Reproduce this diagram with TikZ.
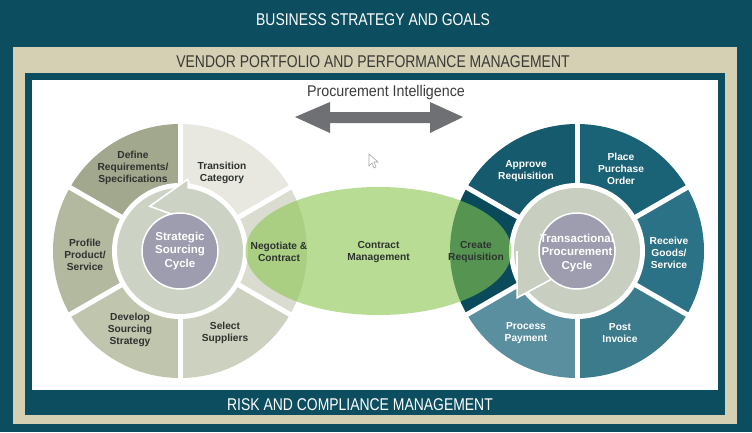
\documentclass[tikz,border=0pt]{standalone}
\usepackage{fontspec}
\setmainfont{Liberation Sans}
\newfontfamily\condfont[FakeStretch=0.82]{Liberation Sans}
\newfontfamily\condpi[FakeStretch=0.92]{Liberation Sans}
\definecolor{tealbg}{HTML}{0C4E5F}
\definecolor{beige}{HTML}{D5CFB3}
\definecolor{vendortext}{HTML}{3A3A36}
\definecolor{pigray}{HTML}{3C3C3C}
\definecolor{arrowgray}{HTML}{6F7074}
\definecolor{lDefine}{HTML}{A2A88E}
\definecolor{lTrans}{HTML}{E8E8E1}
\definecolor{lNeg}{HTML}{DADCD0}
\definecolor{lSelect}{HTML}{CDD1BF}
\definecolor{lDevelop}{HTML}{C0C5AE}
\definecolor{lProfile}{HTML}{B3B99F}
\definecolor{lring}{HTML}{CDD3C4}
\definecolor{disk}{HTML}{9D9DAF}
\definecolor{rApprove}{HTML}{165A6D}
\definecolor{rPlace}{HTML}{1A6276}
\definecolor{rReceive}{HTML}{2C7286}
\definecolor{rPost}{HTML}{3B7B8C}
\definecolor{rProcess}{HTML}{5A8FA0}
\definecolor{rCreate}{HTML}{0A4A5A}
\definecolor{rring}{HTML}{C8CEC0}
\definecolor{ellgreen}{HTML}{8AC64E}
\definecolor{labeldark}{HTML}{2E3330}
\begin{document}
\begin{tikzpicture}[x=1pt,y=-1pt,
  hdr/.style={font=\condfont\fontsize{17}{20}\selectfont, inner sep=0pt},
  seglabel/.style={font=\bfseries\fontsize{10.2}{12}\selectfont, align=center, inner sep=0pt, text=labeldark},
  seglabelw/.style={seglabel, text=white},
  disklabel/.style={font=\bfseries\fontsize{11.5}{13.5}\selectfont, align=center, inner sep=0pt, text=white},
  sep/.style={white, line width=5pt},
  headline/.style={white, line width=1.6pt, line join=miter}]
\useasboundingbox (0,0) rectangle (752,432);
% frames
\fill[tealbg] (0,0) rectangle (752,432);
\fill[beige] (13,47) rectangle (737,424);
\fill[tealbg] (25,73) rectangle (725,415);
\fill[white] (32,80) rectangle (718,390);
\node[hdr, text=white] (biz) at (373,20) {BUSINESS STRATEGY AND GOALS};
\node[hdr, text=vendortext] (vendor) at (373,62) {VENDOR PORTFOLIO AND PERFORMANCE MANAGEMENT};
\node[hdr, text=white] (risk) at (360,405) {RISK AND COMPLIANCE MANAGEMENT};
\node[font=\condpi\fontsize{15.5}{18}\selectfont, text=pigray, inner sep=0pt] (pi) at (386,92) {Procurement Intelligence};
% double arrow
\fill[arrowgray] (295,117) -- (330,102) -- (330,112) -- (430,112) -- (430,102) -- (463,117)
  -- (430,133) -- (430,123) -- (330,123) -- (330,133) -- cycle;
% left circle
\begin{scope}[shift={(180,251)}, y=1pt]
  \fill[lDefine]  (0,0) -- (90:127) arc[start angle=90, end angle=150, radius=127] -- cycle;
  \fill[lTrans]   (0,0) -- (30:127) arc[start angle=30, end angle=90, radius=127] -- cycle;
  \fill[lNeg]     (0,0) -- (-30:127) arc[start angle=-30, end angle=30, radius=127] -- cycle;
  \fill[lSelect]  (0,0) -- (-90:127) arc[start angle=-90, end angle=-30, radius=127] -- cycle;
  \fill[lDevelop] (0,0) -- (210:127) arc[start angle=210, end angle=270, radius=127] -- cycle;
  \fill[lProfile] (0,0) -- (150:127) arc[start angle=150, end angle=210, radius=127] -- cycle;
  \foreach \a in {30,90,150,210,270,330} \draw[sep] (0,0) -- (\a:130);
  \fill[white] (0,0) circle[radius=68];
  \fill[lring] (0,0) circle[radius=63];
  \fill[lring] (84:72) -- (124:54) -- (101:37) -- (80:37) -- cycle;
  \draw[headline] (80:63) -- (84:72) -- (124:54) -- (101:37);
  \filldraw[fill=disk, draw=white, line width=1.5pt] (0,0) circle[radius=38];
\end{scope}
% right circle
\begin{scope}[shift={(577,251)}, y=1pt]
  \fill[rApprove] (0,0) -- (90:127) arc[start angle=90, end angle=150, radius=127] -- cycle;
  \fill[rPlace]   (0,0) -- (30:127) arc[start angle=30, end angle=90, radius=127] -- cycle;
  \fill[rReceive] (0,0) -- (-30:127) arc[start angle=-30, end angle=30, radius=127] -- cycle;
  \fill[rPost]    (0,0) -- (-90:127) arc[start angle=-90, end angle=-30, radius=127] -- cycle;
  \fill[rProcess] (0,0) -- (210:127) arc[start angle=210, end angle=270, radius=127] -- cycle;
  \fill[rCreate]  (0,0) -- (150:127) arc[start angle=150, end angle=210, radius=127] -- cycle;
  \foreach \a in {30,90,150,210,270,330} \draw[sep] (0,0) -- (\a:130);
  \fill[white] (0,0) circle[radius=68];
  \fill[rring] (0,0) circle[radius=63];
  \fill[rring] (180:60) -- (218:76) -- (229:36) -- (180:36) -- cycle;
  \draw[headline] (180:60) -- (218:76) -- (229:36);
  \filldraw[fill=disk, draw=white, line width=1.5pt] (0,0) circle[radius=38];
\end{scope}
% green ellipse
\begin{scope}[shift={(378.5,251)}, y=1pt]
  \fill[ellgreen, fill opacity=0.6] (0,0) ellipse[x radius=133, y radius=64];
\end{scope}
% cursor
\draw[gray!70, fill=white, line width=0.6pt] (369,154) -- (369,166) -- (372,163) -- (374,168) -- (376,167) -- (374,162) -- (378,162) -- cycle;
% labels left
\node[seglabel] (define) at (133,168) {Define\\Requirements/\\Specifications};
\node[seglabel] (transition) at (222,173) {Transition\\Category};
\node[seglabel] (profile) at (85,255) {Profile\\Product/\\Service};
\node[seglabel] (develop) at (130,330) {Develop\\Sourcing\\Strategy};
\node[seglabel] (select) at (225,333) {Select\\Suppliers};
\node[disklabel] (ssc) at (180,251) {Strategic\\Sourcing\\Cycle};
\node[seglabel] (negotiate) at (279,252) {Negotiate \&\\Contract};
\node[seglabel] (contract) at (378.5,252) {Contract\\Management};
% labels right
\node[seglabel] (create) at (476,252) {Create\\Requisition};
\node[seglabelw] (approve) at (526,171) {Approve\\Requisition};
\node[seglabelw] (place) at (621,169) {Place\\Purchase\\Order};
\node[seglabelw] (receive) at (669,253) {Receive\\Goods/\\Service};
\node[seglabelw] (post) at (620,333) {Post\\Invoice};
\node[seglabelw] (process) at (526,333) {Process\\Payment};
\node[disklabel] (tpc) at (577,253) {Transactional\\Procurement\\Cycle};
\end{tikzpicture}
\end{document}
